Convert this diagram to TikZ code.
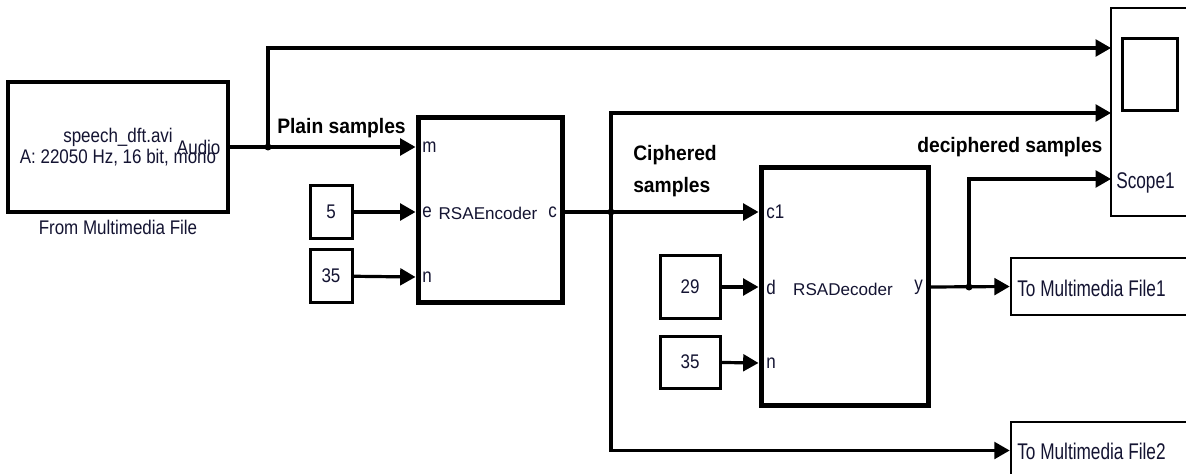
\documentclass[tikz,border=0pt]{standalone}
\usepackage{fontspec}
\setmainfont{Liberation Sans}[FakeStretch=0.86]
\newfontfamily\widefont{Liberation Sans}
\newfontfamily\tallfont{Liberation Sans}[FakeStretch=0.76]
\newfontfamily\lblfont{Liberation Sans}[FakeStretch=0.92]
\usetikzlibrary{positioning,arrows.meta}
\definecolor{blktext}{RGB}{20,20,50}
\def\px{0.75pt}

\begin{document}
\begin{tikzpicture}[x=0.75pt,y=-0.75pt
    , every node/.style={inner sep=1pt,text=blktext,font=\fontsize{14.8}{16}\selectfont}
    , block/.style={draw=black,line width=3.5*\px,inner sep=0pt}
    , port/.style={inner sep=0pt}
    , bname/.style={inner sep=0pt,font=\widefont\fontsize{12.8}{15}\selectfont}
    , sname/.style={inner sep=0pt,anchor=west,font=\tallfont\fontsize{17}{19}\selectfont}
    , lbl/.style={inner sep=0pt,text=black,font=\lblfont\bfseries\fontsize{15.7}{24}\selectfont}
    , sig/.style={line width=3.2*\px,-{Triangle[length=11.5pt,width=12.5pt]}}
]
    \fill[white] (0,0) rectangle (1186,474);
    \clip (0,0) rectangle (1186,474);

    % Source
    \node[block,minimum width=220*\px,minimum height=130*\px] (source) at (118,147) {};
    \node (srcname) at (118,137) {speech\_dft.avi};
    \node (srcinfo) at (118,158) {A: 22050 Hz, 16 bit, mono};
    \node[anchor=east] (paudio) at (222,147) {Audio};
    \node[below=5*\px of source] {From Multimedia File};

    % Encoder
    \node[block,line width=5*\px,minimum width=144*\px,minimum height=184*\px] (encoder) at (490,210) {};
    \node[port,anchor=west] (pm) at (422,147) {m};
    \node[port,anchor=west] (pe) at (422,212) {e};
    \node[port,anchor=west] (pn) at (422,277) {n};
    \node[port,anchor=east] (pc) at (557,212) {c};
    \node[bname] (encname) at (488,213) {RSAEncoder};
    \node[block,line width=3*\px,minimum width=42*\px,minimum height=53*\px] (const5) at (331,212) {5};
    \node[block,line width=3*\px,minimum width=42*\px,minimum height=53*\px] (const35) at (331,276) {35};

    % Decoder
    \node[block,line width=5*\px,minimum width=167*\px,minimum height=237*\px] (decoder) at (844.5,286.5) {};
    \node[port,anchor=west] (pc1) at (766,212) {c1};
    \node[port,anchor=west] (pd) at (766,287) {d};
    \node[port,anchor=west] (pn2) at (766,363) {n};
    \node[port,anchor=east] (py) at (923,287) {y};
    \node[bname] (decname) at (843,289) {RSADecoder};
    \node[block,line width=3*\px,minimum width=60*\px,minimum height=62*\px] (const29) at (690,287) {29};
    \node[block,line width=3*\px,minimum width=60*\px,minimum height=52*\px] (const35b) at (690,362) {35};

    % Sinks
    \node[block,line width=2.6*\px,minimum width=100*\px,minimum height=208*\px] (scope) at (1161,112) {};
    \node[block,line width=3*\px,minimum width=55*\px,minimum height=72*\px] (scopeicon) at (1149.5,75) {};
    \node[sname] (scname) at (1116,183) {Scope1};
    \node[block,line width=2.6*\px,minimum width=200*\px,minimum height=57*\px] (tofile1) at (1111,286.5) {};
    \node[sname] at (1017,288) {To Multimedia File1};
    \node[block,line width=2.6*\px,minimum width=200*\px,minimum height=57*\px] (tofile2) at (1111,450.5) {};
    \node[sname] at (1017,451) {To Multimedia File2};
    \coordinate (scin1) at (1111,48);
    \coordinate (scin2) at (1111,113);
    \coordinate (scin3) at (1111,179);

    % Signals
    \coordinate (j1) at (268,147);
    \coordinate (j2) at (611,212);
    \coordinate (j3) at (969,287);
    \draw[sig] (source.east) -- (encoder.west |- pm);
    \draw[sig] (j1) |- (scin1);
    \draw[sig] (const5) -- (encoder.west |- pe);
    \draw[sig] (const35) -- (encoder.west |- pn);
    \draw[sig] (encoder.east |- pc) -- (decoder.west |- pc1);
    \draw[sig] (j2) |- (scin2);
    \draw[sig] (j2) |- (tofile2.west);
    \draw[sig] (const29) -- (decoder.west |- pd);
    \draw[sig] (const35b) -- (decoder.west |- pn2);
    \draw[sig] (decoder.east |- py) -- (tofile1.west);
    \draw[sig] (j3) |- (scin3);
    \foreach \j in {j1,j2,j3}
        \fill (\j) circle (3.5);

    % Labels
    \node[lbl,anchor=base west] (plain) at (277,134) {Plain samples};
    \node[lbl,anchor=north west,align=left] (ciphered) at (633,145) {Ciphered\\samples};
    \node[lbl,anchor=base west] (deciphered) at (917,153) {deciphered samples};
\end{tikzpicture}
\end{document}
